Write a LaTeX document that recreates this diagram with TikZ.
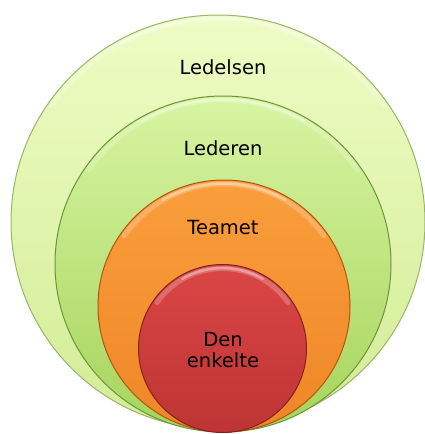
\documentclass[tikz,border=0pt]{standalone}
\usepackage{fontspec}
\setmainfont{DejaVu Sans}
\begin{document}
\begin{tikzpicture}[x=1pt,y=-1pt,
  ring/.style={circle, inner sep=0pt, line width=1pt},
  glow/.style={white, line cap=round},
  lbl/.style={font=\fontsize{19.5}{23}\selectfont, text=black, align=center}]
\useasboundingbox (0,0) rectangle (424,434);
\definecolor{ledTop}{HTML}{EEFCC4}\definecolor{ledBot}{HTML}{D2EC96}\definecolor{ledEdge}{HTML}{9AB56A}
\definecolor{ldrTop}{HTML}{D8F4A2}\definecolor{ldrBot}{HTML}{A6D45C}\definecolor{ldrEdge}{HTML}{6A9638}
\definecolor{teamTop}{HTML}{FA9E3C}\definecolor{teamBot}{HTML}{EE8626}\definecolor{teamEdge}{HTML}{B0560E}
\definecolor{oneTop}{HTML}{DA4646}\definecolor{oneBot}{HTML}{BE3434}\definecolor{oneEdge}{HTML}{862020}
% soft highlight along the upper rim of a disc: node name, radius
\newcommand\rimglow[2]{%
  \draw[glow, opacity=0.22, line width=5pt] ([shift={(215:#2-4)}]#1.center) arc[start angle=215, end angle=325, radius=#2-4];
  \draw[glow, opacity=0.35, line width=2.5pt] ([shift={(240:#2-3.5)}]#1.center) arc[start angle=240, end angle=300, radius=#2-3.5];}
% nested circles, all resting on the same bottom line
\node[ring, minimum size=414pt, top color=ledTop, bottom color=ledBot, draw=ledEdge] (ledelsen) at (218,222) {};
\rimglow{ledelsen}{207}
\node[ring, minimum size=336pt, top color=ldrTop, bottom color=ldrBot, draw=ldrEdge] (lederen) at (223,264) {};
\rimglow{lederen}{168}
\node[ring, minimum size=252pt, top color=teamTop, bottom color=teamBot, draw=teamEdge] (teamet) at (224,306) {};
\rimglow{teamet}{126}
\node[ring, minimum size=168pt, top color=oneTop, bottom color=oneBot, draw=oneEdge] (enkelte) at (222.5,348.5) {};
\rimglow{enkelte}{84}
% labels
\node[lbl] (tLedelsen) at (223,67) {Ledelsen};
\node[lbl] (tLederen) at (223,148) {Lederen};
\node[lbl] (tTeamet) at (223,228) {Teamet};
\node[lbl, font=\fontsize{19.5}{21}\selectfont] (tEnkelte) at (223,350) {Den\\enkelte};
\end{tikzpicture}
\end{document}
